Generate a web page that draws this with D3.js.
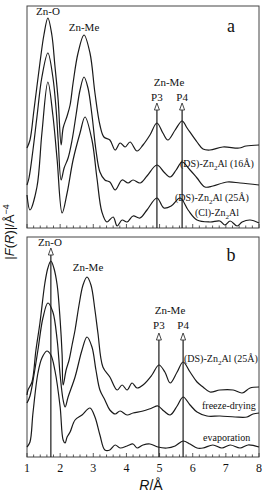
<!DOCTYPE html>
<html>
<head>
<meta charset="utf-8">
<script src="https://cdnjs.cloudflare.com/ajax/libs/d3/7.8.5/d3.min.js"></script>
<style>
  body { margin: 0; background: #fff; }
  svg { display: block; }
  text { font-family: "Liberation Serif", "DejaVu Serif", serif; fill: #111; }
</style>
</head>
<body>
<svg id="chart" width="267" height="494"></svg>
<script>
/*****************************************************************************/
/* Data: R in Angstrom, |F(R)| in arbitrary units (curves are offset)        */
/*****************************************************************************/
var xTicks = [1, 2, 3, 4, 5, 6, 7, 8];

// panel a
var ds16 = [[1.00,80],[1.09,88],[1.21,118],[1.39,165],[1.51,193],[1.63,210],[1.75,193],[1.84,163],[1.94,128],[2.03,83],[2.09,100],[2.21,112],[2.30,123],[2.39,145],[2.54,175],[2.72,193],[2.90,175],[3.05,135],[3.20,103],[3.32,91],[3.50,88],[3.66,78],[3.81,85],[3.96,81],[4.11,86],[4.32,77],[4.50,83],[4.71,93],[4.92,105],[5.10,95],[5.25,88],[5.47,98],[5.68,107],[5.83,100],[6.13,86],[6.31,79],[6.52,78],[6.91,81],[7.40,80],[7.61,82],[8.00,83]];
var ds25a = [[1.00,43],[1.06,50],[1.18,78],[1.30,111],[1.45,151],[1.63,175],[1.78,151],[1.88,118],[1.94,88],[2.03,48],[2.12,60],[2.24,70],[2.36,88],[2.48,113],[2.60,138],[2.72,151],[2.84,140],[2.96,113],[3.08,78],[3.20,56],[3.35,48],[3.50,46],[3.66,38],[3.87,48],[4.05,45],[4.20,48],[4.41,45],[4.62,52],[4.92,63],[5.13,56],[5.32,51],[5.50,58],[5.68,66],[5.92,58],[6.13,50],[6.37,41],[6.61,42],[7.04,46],[7.43,45],[8.00,43]];
var clZn = [[1.00,33],[1.09,18],[1.30,41],[1.45,95],[1.63,146],[1.78,113],[1.91,68],[2.06,15],[2.21,35],[2.39,68],[2.60,95],[2.75,111],[2.96,88],[3.11,50],[3.26,16],[3.41,6],[3.60,11],[3.72,2],[3.87,8],[4.02,6],[4.20,12],[4.41,10],[4.62,18],[4.92,30],[5.13,20],[5.35,22],[5.62,30],[5.86,18],[6.13,8],[6.52,6],[6.82,7],[6.97,3],[7.13,7],[7.34,2],[7.49,6],[7.73,8],[8.00,5]];

// panel b
var ds25b = [[1.00,62],[1.03,67],[1.15,75],[1.27,107],[1.39,134],[1.54,174],[1.63,189],[1.72,196],[1.81,189],[1.91,172],[2.00,137],[2.06,102],[2.09,72],[2.18,87],[2.27,97],[2.36,112],[2.45,127],[2.57,152],[2.69,172],[2.81,180],[2.93,172],[3.05,147],[3.14,124],[3.29,90],[3.50,80],[3.72,67],[3.87,72],[4.02,67],[4.17,74],[4.32,69],[4.50,72],[4.77,82],[4.98,92],[5.16,85],[5.32,74],[5.53,85],[5.71,95],[5.92,85],[6.13,75],[6.31,70],[6.52,65],[6.82,67],[7.22,67],[7.49,64],[7.73,69],[8.00,70]];
var freezeDry = [[1.00,54],[1.09,61],[1.21,82],[1.33,107],[1.48,139],[1.63,154],[1.78,145],[1.91,117],[2.00,82],[2.09,57],[2.15,50],[2.24,60],[2.45,80],[2.66,107],[2.81,120],[2.96,110],[3.08,87],[3.20,67],[3.35,57],[3.50,47],[3.66,43],[3.81,46],[4.02,42],[4.20,44],[4.50,46],[4.77,49],[4.95,51],[5.13,46],[5.32,42],[5.53,51],[5.71,60],[5.92,52],[6.13,45],[6.43,41],[6.82,41],[7.28,40],[7.64,40],[7.82,43],[8.00,44]];
var evaporation = [[1.00,10],[1.09,15],[1.18,44],[1.33,84],[1.45,99],[1.60,106],[1.72,102],[1.84,87],[2.00,50],[2.09,17],[2.15,14],[2.21,20],[2.30,25],[2.45,37],[2.66,42],[2.90,49],[3.05,40],[3.20,22],[3.35,7],[3.50,7],[3.66,12],[3.81,9],[4.02,11],[4.20,13],[4.32,9],[4.50,12],[4.71,13],[4.95,10],[5.22,9],[5.47,11],[5.71,16],[5.92,13],[6.13,9],[6.31,9],[6.61,12],[6.88,9],[7.13,12],[7.43,9],[7.67,12],[8.00,10]];

// peak markers (R position, arrow tip height)
var markersA = [[4.92,125],[5.68,125]];
var markersB = [[1.72,209],[4.98,124],[5.71,124]];

/*****************************************************************************/
/* Layout                                                                    */
/*****************************************************************************/
var svg = d3.select("#chart");
var left = 27, right = 259;

var x = d3.scaleLinear().domain([1, 8]).range([left, right]);

var panels = [
  {top: 6,   bottom: 228, max: 222, curves: [ds16, ds25a, clZn], markers: markersA, labels: false},
  {top: 237, bottom: 457, max: 220, curves: [ds25b, freezeDry, evaporation], markers: markersB, labels: true}
];

var line = d3.line().curve(d3.curveCatmullRom.alpha(0.5));

panels.forEach(function (p) {
  var y = d3.scaleLinear().domain([0, p.max]).range([p.bottom, p.top]);
  p.y = y;

  // frame
  svg.append("rect")
    .attr("x", left).attr("y", p.top)
    .attr("width", right - left).attr("height", p.bottom - p.top)
    .attr("fill", "none").attr("stroke", "#444").attr("stroke-width", 1);

  // ticks, inward
  var minor = d3.range(1, 8.001, 0.2);
  svg.append("g").selectAll("line").data(minor).join("line")
    .attr("x1", function (d) { return x(d); })
    .attr("x2", function (d) { return x(d); })
    .attr("y1", p.bottom)
    .attr("y2", function (d) { return Math.abs(d - Math.round(d)) < 0.01 ? p.bottom - 4 : p.bottom - 2.5; })
    .attr("stroke", "#333").attr("stroke-width", 0.8);

  if (p.labels) {
    svg.append("g").selectAll("text").data(xTicks).join("text")
      .attr("x", function (d) { return x(d); })
      .attr("y", p.bottom + 15)
      .attr("text-anchor", "middle")
      .style("font-size", "12px")
      .text(function (d) { return d; });
  }

  // curves
  p.curves.forEach(function (c) {
    svg.append("path")
      .attr("d", line(c.map(function (d) { return [x(d[0]), y(d[1])]; })))
      .attr("fill", "none")
      .attr("stroke", "#1a1a1a")
      .attr("stroke-width", 1.2);
  });

  // vertical marker lines with open arrow heads
  p.markers.forEach(function (m) {
    var mx = x(m[0]), tip = y(m[1]);
    svg.append("line")
      .attr("x1", mx).attr("x2", mx)
      .attr("y1", p.bottom).attr("y2", tip + 7)
      .attr("stroke", "#1a1a1a").attr("stroke-width", 1.2);
    svg.append("path")
      .attr("d", "M" + mx + "," + tip + "L" + (mx - 2.5) + "," + (tip + 7) + "L" + (mx + 2.5) + "," + (tip + 7) + "Z")
      .attr("fill", "#fff").attr("stroke", "#333").attr("stroke-width", 0.9);
  });
});

/*****************************************************************************/
/* Annotations                                                               */
/*****************************************************************************/
function label(tx, ty, str, size, anchor) {
  return svg.append("text")
    .attr("x", tx).attr("y", ty)
    .attr("text-anchor", anchor || "middle")
    .style("font-size", (size || 11) + "px")
    .text(str);
}

function znAl(tx, ty, tail) {
  var t = svg.append("text").attr("x", tx).attr("y", ty).style("font-size", "10px");
  t.append("tspan").text(tail === null ? "(Cl)-Zn" : "(DS)-Zn");
  t.append("tspan").attr("dy", 2.5).style("font-size", "7px").text("2");
  t.append("tspan").attr("dy", -2.5).text("Al" + (tail ? " " + tail : ""));
}

// panel a
label(48, 15, "Zn-O");
label(84, 31, "Zn-Me");
label(231, 32, "a", 18);
label(169, 86, "Zn-Me");
label(x(4.92), 101, "P3");
label(x(5.68), 101, "P4");
znAl(180, 167, "(16Å)");
znAl(175, 201, "(25Å)");
znAl(195, 216, null);

// panel b
label(50, 246, "Zn-O");
label(88, 271, "Zn-Me");
label(231, 261, "b", 18);
label(170, 314, "Zn-Me");
label(x(4.98), 329, "P3");
label(x(5.71), 329, "P4");
znAl(184, 362, "(25Å)");
label(202, 409, "freeze-drying", 10, "start");
label(203, 441, "evaporation", 10, "start");

// axis titles
var xt = svg.append("text")
  .attr("x", 151).attr("y", 490)
  .attr("text-anchor", "middle")
  .style("font-family", "'Liberation Sans', Arial, sans-serif")
  .style("font-size", "14px");
xt.append("tspan").style("font-style", "italic").text("R");
xt.append("tspan").text("/Å");

var yt = svg.append("text")
  .attr("transform", "translate(14,232) rotate(-90)")
  .attr("text-anchor", "middle")
  .style("font-family", "'Liberation Sans', Arial, sans-serif")
  .style("font-size", "13px");
yt.append("tspan").text("|");
yt.append("tspan").style("font-style", "italic").text("F");
yt.append("tspan").text("(");
yt.append("tspan").style("font-style", "italic").text("R");
yt.append("tspan").text(")|/Å");
yt.append("tspan").attr("dy", -5).style("font-size", "9px").text("−4");
</script>
</body>
</html>
